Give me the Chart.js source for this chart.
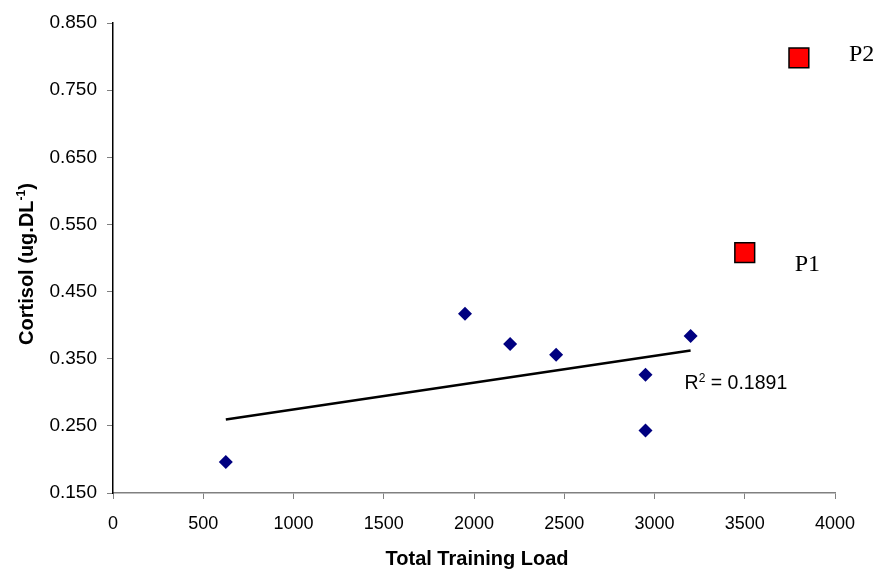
<!DOCTYPE html>
<html lang="en">
<head>
  <meta charset="UTF-8">
  <title>Cortisol vs training load</title>
  <script src="https://cdn.jsdelivr.net/npm/chart.js"></script>
  <style>
    body { margin: 0; background: #fff; }
    canvas { display: block; }
  </style>
</head>
<body>
  <canvas id="cortisolChart" width="875" height="570"></canvas>

  <script>
    // Players used for the fit
    const loads = [625, 1950, 2200, 2455, 2950, 2950, 3200];
    const cortisol = [0.196, 0.417, 0.372, 0.356, 0.326, 0.243, 0.384];

    // Highlighted players, left out of the fit
    const outlierNames = ['P1', 'P2'];
    const outlierLoads = [3500, 3800];
    const outlierCortisol = [0.508, 0.798];

    const rSquared = 0.1891;

    // Axis ranges
    const xTicks = { min: 0, max: 4000, step: 500 };
    const yTicks = { min: 0.15, max: 0.85, step: 0.1 };

    // Least squares line over the fitted points
    function linearFit(xs, ys) {
      const n = xs.length;
      const mx = xs.reduce((a, b) => a + b, 0) / n;
      const my = ys.reduce((a, b) => a + b, 0) / n;
      let sxy = 0, sxx = 0;
      xs.forEach((x, i) => {
        sxy += (x - mx) * (ys[i] - my);
        sxx += (x - mx) * (x - mx);
      });
      const slope = sxy / sxx;
      return x => my + slope * (x - mx);
    }

    const fit = linearFit(loads, cortisol);
    const xLo = Math.min(...loads);
    const xHi = Math.max(...loads);
    const trend = [{ x: xLo, y: fit(xLo) }, { x: xHi, y: fit(xHi) }];

    const SANS = '"Liberation Sans", Arial, sans-serif';

    // Draws text with a raised middle part, e.g. ['R', '2', ' = ...']
    function drawWithSup(ctx, parts, x, y, size, bold, align) {
      const weight = bold ? 'bold ' : '';
      const base = weight + size + 'px ' + SANS;
      const small = weight + Math.round(size * 0.62) + 'px ' + SANS;
      ctx.font = base;
      const w0 = ctx.measureText(parts[0]).width;
      const w2 = ctx.measureText(parts[2]).width;
      ctx.font = small;
      const w1 = ctx.measureText(parts[1]).width;
      let left = x;
      if (align === 'center') left = x - (w0 + w1 + w2) / 2;
      ctx.textAlign = 'left';
      ctx.textBaseline = 'alphabetic';
      ctx.font = base;
      ctx.fillText(parts[0], left, y);
      ctx.font = small;
      ctx.fillText(parts[1], left + w0, y - size * 0.38);
      ctx.font = base;
      ctx.fillText(parts[2], left + w0 + w1, y);
    }

    const annotations = {
      id: 'annotations',
      afterDraw(chart) {
        const ctx = chart.ctx;
        const xs = chart.scales.x;
        const ys = chart.scales.y;
        const area = chart.chartArea;
        ctx.save();
        ctx.fillStyle = '#000';

        // P1 / P2 tags next to the squares
        ctx.font = '24px "Liberation Serif", "Times New Roman", serif';
        ctx.textAlign = 'left';
        ctx.textBaseline = 'middle';
        const tagOffsets = [12, -3];
        outlierNames.forEach((name, i) => {
          const px = xs.getPixelForValue(outlierLoads[i]);
          const py = ys.getPixelForValue(outlierCortisol[i]);
          ctx.fillText(name, px + 50, py + tagOffsets[i]);
        });

        // R squared under the end of the trend line
        const rx = xs.getPixelForValue(xHi) - 6;
        const ry = ys.getPixelForValue(fit(xHi)) + 39;
        drawWithSup(ctx, ['R', '2', ' = ' + rSquared.toFixed(4)], rx, ry, 19.5, false, 'left');

        // Axis titles
        ctx.font = 'bold 20px ' + SANS;
        ctx.textAlign = 'center';
        ctx.textBaseline = 'alphabetic';
        ctx.fillText('Total Training Load', (area.left + area.right) / 2 + 3, 565);

        ctx.translate(33, (area.top + area.bottom) / 2 + 6);
        ctx.rotate(-Math.PI / 2);
        drawWithSup(ctx, ['Cortisol (ug.DL', '-1', ')'], 0, 0, 20, true, 'center');
        ctx.restore();
      }
    };

    new Chart(document.getElementById('cortisolChart'), {
      type: 'scatter',
      data: {
        datasets: [
          {
            type: 'line',
            data: trend,
            borderColor: '#000',
            borderWidth: 2.5,
            pointRadius: 0,
            fill: false
          },
          {
            data: loads.map((x, i) => ({ x, y: cortisol[i] })),
            pointStyle: 'rectRot',
            pointRadius: 7,
            backgroundColor: '#000080',
            borderColor: '#000080',
            borderWidth: 0
          },
          {
            data: outlierLoads.map((x, i) => ({ x, y: outlierCortisol[i] })),
            pointStyle: 'rect',
            pointRadius: 14,
            backgroundColor: '#ff0000',
            borderColor: '#000',
            borderWidth: 1.5
          }
        ]
      },
      options: {
        responsive: false,
        animation: false,
        layout: { padding: { top: 23, right: 40, left: 0, bottom: 0 } },
        plugins: {
          legend: { display: false },
          tooltip: { enabled: false }
        },
        scales: {
          x: {
            type: 'linear',
            min: xTicks.min,
            max: xTicks.max,
            afterFit(scale) { scale.height = 77; },
            border: { color: '#808080', width: 1.5 },
            grid: { drawOnChartArea: false, tickLength: 6, color: '#808080' },
            ticks: {
              stepSize: xTicks.step,
              padding: 14,
              color: '#000',
              font: { family: SANS, size: 18 },
              callback: v => String(v)
            }
          },
          y: {
            min: yTicks.min,
            max: yTicks.max,
            afterFit(scale) { scale.width = 113; },
            border: { color: '#000', width: 1.5 },
            grid: { drawOnChartArea: false, tickLength: 6, color: '#808080' },
            ticks: {
              stepSize: yTicks.step,
              padding: 10,
              color: '#000',
              font: { family: SANS, size: 19 },
              callback: v => Number(v).toFixed(3)
            }
          }
        }
      },
      plugins: [annotations]
    });
  </script>
</body>
</html>
